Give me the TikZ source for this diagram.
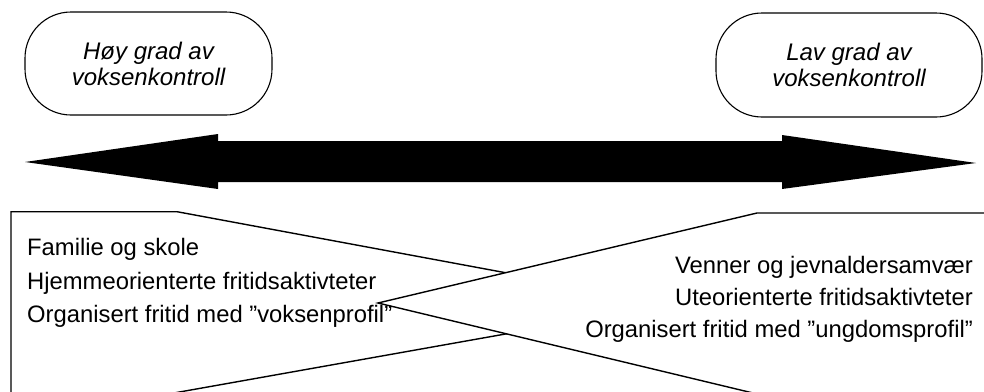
\documentclass[tikz,border=0pt]{standalone}
\usepackage{fontspec}
\setmainfont{Liberation Sans}
\usetikzlibrary{positioning}
\tikzset{
  kontroll/.style={draw,line width=1.1pt,rounded corners=46pt,align=center,inner sep=0pt,
    font=\fontsize{24}{26}\selectfont\itshape},
  felt/.style={draw,line width=1.4pt,fill=white,line join=miter},
  linje/.style={inner sep=0pt,font=\fontsize{23.8}{28}\selectfont},
}
\begin{document}
\begin{tikzpicture}[x=1pt,y=-1pt]
  \useasboundingbox (0,0) rectangle (984,391);
  \clip (0,0) rectangle (984,391);
  % the two boxes at the top
  \node[kontroll,minimum width=247pt,minimum height=103pt] (hoy) at (148.5,63.5) {Høy grad av\\voksenkontroll};
  \node[kontroll,minimum width=266pt,minimum height=104pt] (lav) at (849,65) {Lav grad av\\voksenkontroll};
  % double arrow
  \fill (25,162) -- (218,134) -- (218,141) -- (782,141) -- (782,135) -- (976,163)
    -- (782,189) -- (782,182) -- (218,182) -- (218,189) -- cycle;
  % crossed fields, the right one lies on top
  \draw[felt] (11,211.7) -- (177,211.7) -- (674,304) -- (157,396) -- (11,396) -- cycle;
  \draw[felt] (995,213) -- (757,213) -- (378,303) -- (753,393) -- (995,393) -- cycle;
  % left field
  \node[linje,anchor=base west] (fam) at (27,255) {Familie og skole};
  \node[linje,anchor=base west] (hjem) at (27,289) {Hjemmeorienterte fritidsaktivteter};
  \node[linje,anchor=base west] (orgv) at (27,322) {Organisert fritid med ”voksenprofil”};
  % right field
  \node[linje,anchor=base east] (venn) at (973,273) {Venner og jevnaldersamvær};
  \node[linje,anchor=base east] (ute) at (973,305) {Uteorienterte fritidsaktivteter};
  \node[linje,anchor=base east] (orgu) at (973,337) {Organisert fritid med ”ungdomsprofil”};
\end{tikzpicture}
\end{document}
